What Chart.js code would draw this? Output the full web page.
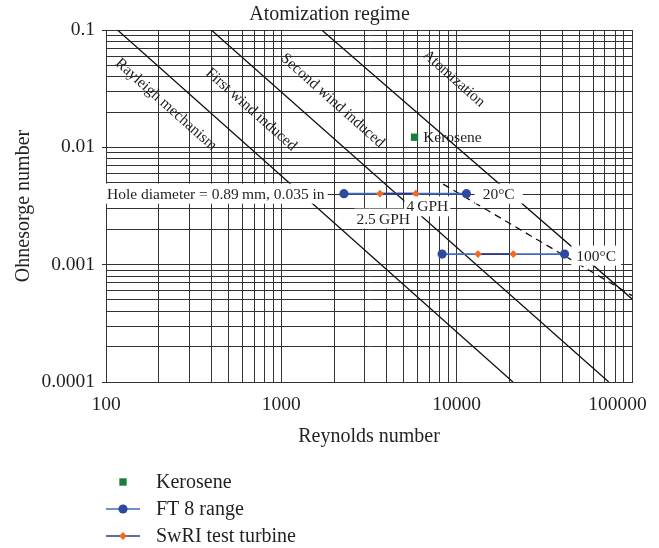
<!DOCTYPE html>
<html>
<head>
<meta charset="utf-8">
<title>Atomization regime</title>
<script src="https://cdn.jsdelivr.net/npm/chart.js@4.4.1/dist/chart.umd.min.js"></script>
<style>
  html, body { margin: 0; padding: 0; background: #fff; }
  #wrap { width: 659px; height: 548px; }
</style>
</head>
<body>
<div id="wrap"><canvas id="regimeChart" width="659" height="548"></canvas></div>
<script>
// ============================================================
//  Ohnesorge / Reynolds atomization regime chart
// ============================================================

// ---- Axes ----
const xDecades    = [100, 1000, 10000, 100000];
const yDecades    = [0.0001, 0.001, 0.01, 0.1];
const xTickLabels = ['100', '1000', '10000', '100000'];
const yTickLabels = ['0.0001', '0.001', '0.01', '0.1'];

// ---- Measured points ----
const keroseneRe = [5750];
const keroseneOh = [0.0122];

// one row per fuel temperature: 20°C, 100°C
const rowNames = ['20°C', '100°C'];
const rowOh    = [0.00403, 0.00123];
const ft8Re    = [[2275, 11370], [8260, 41240]];
const swriRe   = [[3650, 5850], [13240, 21050]];

// ---- Regime boundaries (end points) ----
const boundaryRe = [[116.3, 20940], [398.6, 73700], [1700, 100000]];
const boundaryOh = [[0.1, 0.0001], [0.1, 0.0001], [0.1, 0.00051]];
const dashedRe   = [8370, 100000];
const dashedOh   = [0.00486, 0.000545];

// ---- Look ----
const SERIF  = "'Liberation Serif', 'Times New Roman', serif";
const INK    = '#231f20';
const GRID   = '#333333';
const FT_LINE  = '#4068c6';
const FT_DOT   = '#2c4a9e';
const SW_LINE  = '#2d3a8c';
const SW_DOT   = '#f26a22';
const KERO     = '#1b7d3e';

// ---- Helpers ----
function pts(xs, ys) {
    return xs.map((x, i) => ({ x: x, y: Array.isArray(ys) ? ys[i] : ys }));
}

function decadeIndex(value, decades) {
    return decades.findIndex(d => Math.abs(Math.log10(value / d)) < 1e-6);
}

function decadeLabel(value, decades, labels) {
    const i = decadeIndex(value, decades);
    return i >= 0 ? labels[i] : '';
}

// 1..9 x each decade, last decade only its first line
function logGrid(decades) {
    const out = [];
    decades.forEach((d, i) => {
        const steps = i < decades.length - 1 ? 9 : 1;
        for (let k = 1; k <= steps; k++) out.push({ value: d * k });
    });
    return out;
}

// ---- Datasets ----
const datasets = [];

datasets.push({
    label: 'Kerosene',
    data: pts(keroseneRe, keroseneOh),
    showLine: false,
    pointStyle: 'rect',
    pointRadius: 5.2,
    backgroundColor: KERO,
    borderColor: KERO,
    borderWidth: 0,
    order: 0
});

rowNames.forEach((name, r) => {
    datasets.push({
        label: 'SwRI test turbine ' + name,
        data: pts(swriRe[r], rowOh[r]),
        showLine: true,
        borderColor: SW_LINE,
        borderWidth: 1.6,
        pointStyle: 'rectRot',
        pointRadius: 3.9,
        pointBackgroundColor: SW_DOT,
        pointBorderColor: SW_DOT,
        pointBorderWidth: 0,
        order: 1
    });
    datasets.push({
        label: 'FT 8 range ' + name,
        data: pts(ft8Re[r], rowOh[r]),
        showLine: true,
        borderColor: FT_LINE,
        borderWidth: 1.6,
        pointStyle: 'circle',
        pointRadius: 4.6,
        pointBackgroundColor: FT_DOT,
        pointBorderColor: FT_DOT,
        pointBorderWidth: 0,
        order: 2
    });
});

boundaryRe.forEach((re, i) => {
    datasets.push({
        label: 'boundary ' + i,
        data: pts(re, boundaryOh[i]),
        showLine: true,
        borderColor: '#111',
        borderWidth: 1.3,
        pointRadius: 0,
        order: 3
    });
});

datasets.push({
    label: 'boundary dashed',
    data: pts(dashedRe, dashedOh),
    showLine: true,
    borderColor: '#111',
    borderWidth: 1.3,
    borderDash: [7, 5],
    pointRadius: 0,
    order: 3
});

// ---- Labels on the plot ----
const notesPlugin = {
    id: 'notes',
    afterDatasetsDraw(chart, args, opts) {
        const { ctx, scales: { x, y } } = chart;
        const px = v => x.getPixelForValue(v);
        const py = v => y.getPixelForValue(v);
        // regime names follow the boundary slope
        const ang = Math.atan2(py(boundaryOh[0][1]) - py(boundaryOh[0][0]),
                               px(boundaryRe[0][1]) - px(boundaryRe[0][0]));
        ctx.save();
        ctx.font = opts.font;
        ctx.fillStyle = INK;
        ctx.textBaseline = 'middle';

        opts.regions.forEach(r => {
            ctx.save();
            ctx.translate(px(r.at[0]), py(r.at[1]));
            ctx.rotate(ang);
            ctx.textAlign = 'center';
            ctx.fillText(r.text, 0, 0);
            ctx.restore();
        });

        // white backing first, then every text on top
        const items = opts.boxed.map(b => {
            const w = ctx.measureText(b.text).width;
            const cx = px(b.at[0]) + (b.dx || 0);
            const cy = py(b.at[1]);
            const left = b.align === 'left' ? cx : cx - w / 2;
            return { b, w, left, cy };
        });
        ctx.fillStyle = '#fff';
        items.forEach(({ b, w, left, cy }) => {
            if (b.box === false) return;
            const pl = b.padL != null ? b.padL : 5;
            const pr = b.padR != null ? b.padR : 5;
            ctx.fillRect(left - pl, cy - 10, w + pl + pr, 20);
        });
        ctx.fillStyle = INK;
        ctx.textAlign = 'left';
        items.forEach(({ b, left, cy }) => ctx.fillText(b.text, left, cy + 1));
        ctx.restore();
    }
};

// ---- Stacked legend under the axis title ----
const stackedLegend = {
    id: 'stackedLegend',
    afterDraw(chart, args, opts) {
        const { ctx, chartArea } = chart;
        const sx = chartArea.left + opts.symbolX;
        const tx = chartArea.left + opts.textX;
        ctx.save();
        ctx.font = opts.font;
        ctx.textBaseline = 'middle';
        ctx.textAlign = 'left';
        opts.items.forEach((it, i) => {
            const yy = chartArea.bottom + opts.top + i * opts.rowGap;
            if (it.line) {
                ctx.strokeStyle = it.line;
                ctx.lineWidth = 1.6;
                ctx.beginPath();
                ctx.moveTo(sx - opts.lineHalf, yy);
                ctx.lineTo(sx + opts.lineHalf, yy);
                ctx.stroke();
            }
            ctx.fillStyle = it.color;
            Chart.helpers.drawPoint(ctx, { pointStyle: it.style, radius: it.radius, borderWidth: 0, rotation: 0 }, sx, yy);
            ctx.fillStyle = INK;
            ctx.fillText(it.text, tx, yy + 1);
        });
        ctx.restore();
    }
};

// ---- Chart ----
const ctx = document.getElementById('regimeChart').getContext('2d');
new Chart(ctx, {
    type: 'scatter',
    data: { datasets: datasets },
    plugins: [notesPlugin, stackedLegend],
    options: {
        responsive: false,
        animation: false,
        layout: { padding: { left: 0, right: 0, top: 0, bottom: 96 } },
        plugins: {
            legend: { display: false },
            tooltip: { enabled: false },
            title: {
                display: true,
                text: 'Atomization regime',
                color: INK,
                font: { family: SERIF, size: 20, weight: 'normal' },
                padding: { top: 3, bottom: 3 }
            },
            notes: {
                font: '15.5px ' + SERIF,
                regions: [
                    { text: 'Rayleigh mechanism',  at: [219.6, 0.02312] },
                    { text: 'First wind induced',  at: [673, 0.02096] },
                    { text: 'Second wind induced', at: [1959, 0.02501] },
                    { text: 'Atomization',         at: [9627, 0.03853] }
                ],
                boxed: [
                    { text: 'Hole diameter = 0.89\u2009mm, 0.035 in', at: [100, rowOh[0]], align: 'left', dx: 1, padL: 1, padR: 3 },
                    { text: rowNames[0], at: [17360, rowOh[0]], padL: 8, padR: 8 },
                    { text: rowNames[1], at: [62480, 0.001194] },
                    { text: '4\u2009GPH', at: [6802, 0.003141], padL: 2, padR: 2 },
                    { text: '2.5\u2009GPH', at: [3812, 0.002468], padL: 2, padR: 2 },
                    { text: 'Kerosene', at: [keroseneRe[0], keroseneOh[0]], align: 'left', dx: 8.6, box: false }
                ]
            },
            stackedLegend: {
                font: '20px ' + SERIF,
                symbolX: 17,
                textX: 50,
                lineHalf: 17,
                top: 100,
                rowGap: 27,
                items: [
                    { text: 'Kerosene',          color: KERO,  style: 'rect',    radius: 5.2 },
                    { text: 'FT 8 range',        color: FT_DOT, style: 'circle', radius: 4.6, line: FT_LINE },
                    { text: 'SwRI test turbine', color: SW_DOT, style: 'rectRot', radius: 3.9, line: SW_LINE }
                ]
            }
        },
        scales: {
            x: {
                type: 'logarithmic',
                min: xDecades[0],
                max: xDecades[xDecades.length - 1],
                afterBuildTicks: s => { s.ticks = logGrid(xDecades); },
                // fixed band below the plot; keep the right edge close to the canvas
                afterFit: s => { s.height = 70; s.paddingRight = 27; },
                ticks: {
                    autoSkip: false,
                    maxRotation: 0,
                    padding: 11,
                    color: INK,
                    font: { family: SERIF, size: 19.5 },
                    // the last label sits inside the canvas: trailing en spaces pull it left
                    callback: v => {
                        const i = decadeIndex(v, xDecades);
                        if (i < 0) return '';
                        return i === xDecades.length - 1 ? xTickLabels[i] + '\u2002\u2002\u2002' : xTickLabels[i];
                    }
                },
                grid: { color: GRID, lineWidth: 1, drawTicks: false },
                border: { color: GRID, width: 1 },
                title: {
                    display: true,
                    text: 'Reynolds number',
                    color: INK,
                    font: { family: SERIF, size: 20 },
                    padding: { top: 0, bottom: 3 }
                }
            },
            y: {
                type: 'logarithmic',
                min: yDecades[0],
                max: yDecades[yDecades.length - 1],
                afterBuildTicks: s => { s.ticks = logGrid(yDecades); },
                afterFit: s => { s.width = 106; },
                ticks: {
                    autoSkip: false,
                    padding: 7,
                    color: INK,
                    font: { family: SERIF, size: 19.5 },
                    callback: v => decadeLabel(v, yDecades, yTickLabels)
                },
                grid: {
                    color: GRID,
                    lineWidth: 1,
                    tickLength: 4,
                    tickColor: c => (c.tick && decadeLabel(c.tick.value, yDecades, yTickLabels)) ? GRID : 'rgba(0,0,0,0)'
                },
                border: { color: GRID, width: 1 },
                title: {
                    display: true,
                    text: 'Ohnesorge number',
                    color: INK,
                    font: { family: SERIF, size: 20 },
                    padding: { top: 12, bottom: 0 }
                }
            }
        }
    }
});
</script>
</body>
</html>
